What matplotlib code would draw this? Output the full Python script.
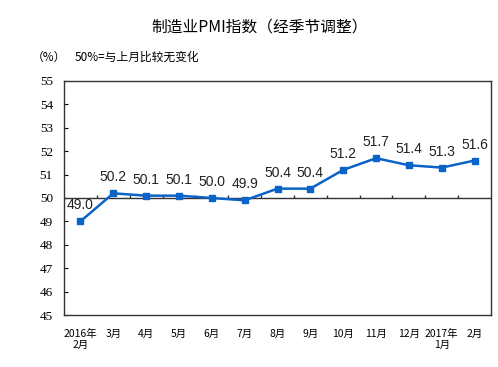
import matplotlib.pyplot as plt

months = ["2016年\n2月", "3月", "4月", "5月", "6月", "7月", "8月", "9月",
          "10月", "11月", "12月", "2017年\n1月", "2月"]
pmi = [49.0, 50.2, 50.1, 50.1, 50.0, 49.9, 50.4, 50.4, 51.2, 51.7, 51.4, 51.3, 51.6]
yticks = [45, 46, 47, 48, 49, 50, 51, 52, 53, 54, 55]

plt.rcParams['font.family'] = ['Noto Sans CJK SC', 'DejaVu Sans']
line_color = "#0a64c8"

fig = plt.figure(figsize=(4.98, 3.67), dpi=100)
ax = fig.add_axes([64/498, 1-315/367, 427/498, 234/367])

x = list(range(len(pmi)))
ax.plot(x, pmi, color=line_color, lw=1.8, marker="s", ms=4.5, zorder=3)

for xi, v in zip(x, pmi):
    ax.annotate(f"{v:.1f}", (xi, v), xytext=(0, 6.5), textcoords="offset points",
                ha="center", va="bottom", fontsize=10,
                family="Liberation Sans", color="#222222")

# 50 baseline with ticks at category boundaries
ax.axhline(50, color="#333333", lw=1, zorder=2)
ax.vlines([k - 0.5 for k in range(1, len(pmi))], 50, 50.12, color="#333333", lw=1, zorder=2)

ax.set_xlim(-0.5, len(pmi) - 0.5)
ax.set_ylim(45, 55)
ax.set_yticks(yticks)
ax.set_yticklabels([str(t) for t in yticks], family="Liberation Serif", fontsize=9.5)
ax.set_xticks(x)
ax.set_xticklabels(months, fontsize=7.5, linespacing=1.15, va="top")
ax.tick_params(axis="x", length=0, pad=10)
ax.tick_params(axis="y", direction="in", length=3, pad=8)
for s in ax.spines.values():
    s.set_color("#333333")
    s.set_linewidth(1)

fig.text(260/498, 1-27/367, "制造业PMI指数（经季节调整）", ha="center", va="center", fontsize=11.3)
fig.text(32/498, 1-57/367, "（%）", ha="left", va="center", fontsize=8.5)
fig.text(75/498, 1-57/367, "50%=与上月比较无变化", ha="left", va="center", fontsize=8.5)

fig.savefig("out.png", dpi=100)
